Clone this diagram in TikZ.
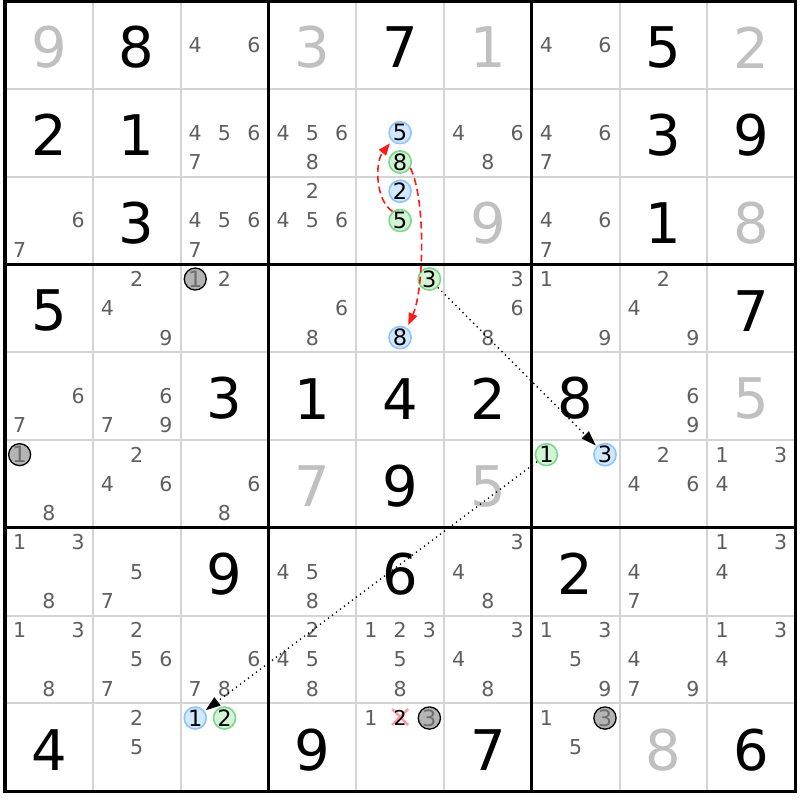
\documentclass[tikz,border=0pt]{standalone}
\usepackage{fontspec}
\setmainfont{DejaVu Sans}
\usetikzlibrary{arrows.meta}
\definecolor{gridthin}{HTML}{D4D4D4}
\definecolor{candcol}{HTML}{5F5F5F}
\definecolor{solvedcol}{HTML}{C0C0C0}
\definecolor{bluefill}{HTML}{D2E8FF}
\definecolor{blueline}{HTML}{8CC4FF}
\definecolor{greenfill}{HTML}{D4F4D6}
\definecolor{greenline}{HTML}{7CD888}
\definecolor{grayfill}{HTML}{B4B4B4}
\definecolor{graytext}{HTML}{6E6E6E}
\definecolor{crosscol}{HTML}{FF9AA2}
\definecolor{linkred}{HTML}{FF1A1A}
\newcommand\candset[3]{%
  \foreach \d in {#3}{%
    \pgfmathsetmacro\px{5+87.8*(#2-1)+14.63+29.27*mod(\d-1,3)}%
    \pgfmathsetmacro\py{1+87.8*(#1-1)+14.63+29.27*floor((\d-1)/3)}%
    \node[cand] (k#1#2\d) at (\px,\py) {\d};}}
\newcommand\markc[5]{%
    \pgfmathsetmacro\px{5+87.8*(#3-1)+14.63+29.27*mod(#4-1,3)}%
    \pgfmathsetmacro\py{1+87.8*(#2-1)+14.63+29.27*floor((#4-1)/3)}%
    \node[#5] (#1) at (\px,\py) {#4};}
\newcommand\valc[4]{%
    \pgfmathsetmacro\px{5+87.8*(#2-1)+43.9}%
    \pgfmathsetmacro\py{1+87.8*(#1-1)+46.4}%
    \node[#4] (v#1#2) at (\px,\py) {#3};}
\begin{document}
\begin{tikzpicture}[x=1pt,y=-1pt,
  given/.style={inner sep=0pt, font=\fontsize{56}{60}\selectfont, text=black},
  solved/.style={given, text=solvedcol},
  cand/.style={inner sep=0pt, font=\fontsize{20.5}{22}\selectfont, text=candcol},
  markbase/.style={circle, inner sep=0pt, minimum size=22pt, line width=1.6pt, font=\fontsize{22.5}{24}\selectfont, text=black},
  bluemark/.style={markbase, draw=blueline, fill=bluefill},
  greenmark/.style={markbase, draw=greenline, fill=greenfill},
  graymark/.style={markbase, draw=black, line width=1.3pt, fill=grayfill, text=graytext},
  blackcand/.style={cand, text=black},
  thingrid/.style={draw=gridthin, line width=2pt},
  thickgrid/.style={draw=black, line width=3.2pt},
  redlink/.style={draw=linkred, line width=1.6pt, dash pattern=on 7pt off 4pt, -{Triangle[length=12pt,width=9pt]}, shorten >=3pt},
  blklink/.style={draw=black, line width=1.3pt, dash pattern=on 1.3pt off 3.7pt, -{Triangle[length=15pt,width=10pt]}, shorten >=1pt}
]
\useasboundingbox (0,0) rectangle (800,800);
\fill[white] (0,0) rectangle (800,800);
% grid
\foreach \i in {1,2,4,5,7,8}{
  \draw[thingrid] ({5+87.8*\i},1) -- ({5+87.8*\i},791.2);
  \draw[thingrid] (5,{1+87.8*\i}) -- (795.2,{1+87.8*\i});
}
\foreach \i in {3,6}{
  \draw[thickgrid] ({5+87.8*\i},1) -- ({5+87.8*\i},791.2);
  \draw[thickgrid] (5,{1+87.8*\i}) -- (795.2,{1+87.8*\i});
}
\draw[thickgrid] (5,1) rectangle (795.2,791.2);
% given digits
\valc{1}{2}{8}{given} \valc{1}{5}{7}{given} \valc{1}{8}{5}{given}
\valc{2}{1}{2}{given} \valc{2}{2}{1}{given} \valc{2}{8}{3}{given} \valc{2}{9}{9}{given}
\valc{3}{2}{3}{given} \valc{3}{8}{1}{given}
\valc{4}{1}{5}{given} \valc{4}{9}{7}{given}
\valc{5}{3}{3}{given} \valc{5}{4}{1}{given} \valc{5}{5}{4}{given} \valc{5}{6}{2}{given} \valc{5}{7}{8}{given}
\valc{6}{5}{9}{given}
\valc{7}{3}{9}{given} \valc{7}{5}{6}{given} \valc{7}{7}{2}{given}
\valc{9}{1}{4}{given} \valc{9}{4}{9}{given} \valc{9}{6}{7}{given} \valc{9}{9}{6}{given}
% solved digits
\valc{1}{1}{9}{solved} \valc{1}{4}{3}{solved} \valc{1}{6}{1}{solved} \valc{1}{9}{2}{solved}
\valc{3}{6}{9}{solved} \valc{3}{9}{8}{solved}
\valc{5}{9}{5}{solved}
\valc{6}{4}{7}{solved} \valc{6}{6}{5}{solved}
\valc{9}{8}{8}{solved}
% candidates
\candset{1}{3}{4,6} \candset{1}{7}{4,6}
\candset{2}{3}{4,5,6,7} \candset{2}{4}{4,5,6,8} \candset{2}{6}{4,6,8} \candset{2}{7}{4,6,7}
\candset{3}{1}{6,7} \candset{3}{3}{4,5,6,7} \candset{3}{4}{2,4,5,6} \candset{3}{7}{4,6,7}
\candset{4}{2}{2,4,9} \candset{4}{3}{2} \candset{4}{4}{6,8} \candset{4}{6}{3,6,8} \candset{4}{7}{1,9} \candset{4}{8}{2,4,9}
\candset{5}{1}{6,7} \candset{5}{2}{6,7,9} \candset{5}{8}{6,9}
\candset{6}{1}{8} \candset{6}{2}{2,4,6} \candset{6}{3}{6,8} \candset{6}{8}{2,4,6} \candset{6}{9}{1,3,4}
\candset{7}{1}{1,3,8} \candset{7}{2}{5,7} \candset{7}{4}{4,5,8} \candset{7}{6}{3,4,8} \candset{7}{8}{4,7} \candset{7}{9}{1,3,4}
\candset{8}{1}{1,3,8} \candset{8}{2}{2,5,6,7} \candset{8}{3}{6,7,8} \candset{8}{4}{2,4,5,8} \candset{8}{5}{1,2,3,5,8} \candset{8}{6}{3,4,8} \candset{8}{7}{1,3,5,9} \candset{8}{8}{4,7,9} \candset{8}{9}{1,3,4}
\candset{9}{2}{2,5} \candset{9}{5}{1} \candset{9}{7}{1,5}
% eliminated candidate
\coordinate (x952) at (400.1,717);
\draw[crosscol, line width=2.6pt] ([shift={(-8,-8)}]x952) -- ([shift={(8,8)}]x952);
\draw[crosscol, line width=2.6pt] ([shift={(-8,8)}]x952) -- ([shift={(8,-8)}]x952);
\markc{k952}{9}{5}{2}{blackcand}
% marked candidates
\markc{b25}{2}{5}{5}{bluemark}
\markc{g28}{2}{5}{8}{greenmark}
\markc{b32}{3}{5}{2}{bluemark}
\markc{g35}{3}{5}{5}{greenmark}
\markc{g43}{4}{5}{3}{greenmark}
\markc{b48}{4}{5}{8}{bluemark}
\markc{m41}{4}{3}{1}{graymark}
\markc{m61}{6}{1}{1}{graymark}
\markc{g61}{6}{7}{1}{greenmark}
\markc{b63}{6}{7}{3}{bluemark}
\markc{b91}{9}{3}{1}{bluemark}
\markc{g92}{9}{3}{2}{greenmark}
\markc{m953}{9}{5}{3}{graymark}
\markc{m973}{9}{7}{3}{graymark}
% links
\draw[redlink] (g35.130) .. controls (375,200) and (375,162) .. (b25.225);
\draw[redlink] (g28.-30) .. controls (426,200) and (424,290) .. (b48.55);
\draw[blklink] (g43) -- (b63);
\draw[blklink] (g61) -- (b91);
\end{tikzpicture}
\end{document}
